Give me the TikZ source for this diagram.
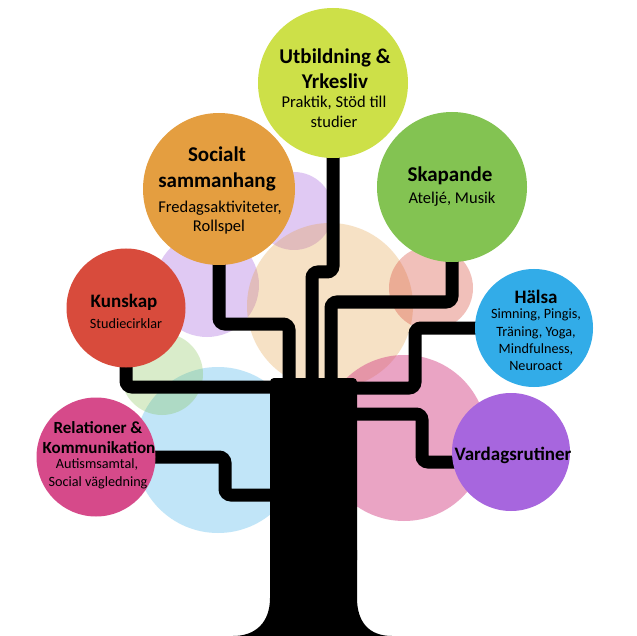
\documentclass[tikz,border=0pt]{standalone}
\usepackage{fontspec}
\setmainfont{Carlito}
\definecolor{utbC}{RGB}{205,224,72}
\definecolor{socC}{RGB}{228,158,64}
\definecolor{skaC}{RGB}{131,195,82}
\definecolor{kunC}{RGB}{216,75,60}
\definecolor{relC}{RGB}{214,74,138}
\definecolor{halC}{RGB}{50,172,232}
\definecolor{varC}{RGB}{167,102,222}
\tikzset{
  bgcirc/.style={circle, inner sep=0pt, draw=none},
  maincirc/.style={circle, inner sep=0pt, draw=none},
  branch/.style={draw=black, line width=13pt, rounded corners=6pt},
  bigtitle/.style={anchor=base, inner sep=0pt, font=\fontsize{21}{21}\selectfont\bfseries},
  bigsub/.style={anchor=base, inner sep=0pt, font=\fontsize{16.5}{16.5}\selectfont},
  smalltitle/.style={anchor=base, inner sep=0pt, font=\fontsize{19}{19}\selectfont\bfseries},
  reltitle/.style={anchor=base, inner sep=0pt, font=\fontsize{17}{17}\selectfont\bfseries},
  smallsub/.style={anchor=base, inner sep=0pt, font=\fontsize{14.2}{14.2}\selectfont}
}
\begin{document}
\begin{tikzpicture}[x=1pt,y=-1pt]
\useasboundingbox (0,0) rectangle (637,636);
\fill[white] (0,0) rectangle (637,636);

% translucent background circles
\node[bgcirc, fill=varC, fill opacity=0.35, minimum size=104pt] (bgLav) at (207,285) {};
\node[bgcirc, fill=varC, fill opacity=0.35, minimum size=78pt] (bgLavS) at (294,211) {};
\node[bgcirc, fill=socC, fill opacity=0.3, minimum size=166pt] (bgPeach) at (330,306) {};
\node[bgcirc, fill=kunC, fill opacity=0.35, minimum size=84pt] (bgSalmon) at (431,288) {};
\node[bgcirc, fill=relC, fill opacity=0.5, minimum size=166pt] (bgPink) at (404,438) {};
\node[bgcirc, fill=halC, fill opacity=0.3, minimum size=166pt] (bgBlue) at (218,450) {};
\node[bgcirc, fill=skaC, fill opacity=0.3, minimum size=82pt] (bgGreen) at (162,374) {};

% main circles (positions used by branches)
\coordinate (kunIn) at (300,387);
\coordinate (relIn) at (300,495);
\coordinate (socIn) at (289,400);
\coordinate (utbIn) at (312,400);
\coordinate (skaIn) at (331,400);
\coordinate (halIn) at (330,388);
\coordinate (varIn) at (330,414);
\coordinate (varEnd) at (480,462);
\coordinate (kunC0) at (126,308);
\coordinate (relC0) at (96,457);
\coordinate (socC0) at (219,189);
\coordinate (utbC0) at (333,83);
\coordinate (skaC0) at (452,187);
\coordinate (halC0) at (534,328);
\coordinate (varC0) at (511,452);

% branches
\draw[branch] (kunC0) |- (kunIn);
\draw[branch] (relC0) -| (225,495) -- (relIn);
\draw[branch] (socC0) |- (289,324) -- (socIn);
\draw[branch] (utbC0) |- (312,272) -- (utbIn);
\draw[branch] (skaC0) |- (331,302) -- (skaIn);
\draw[branch] (halC0) -| (415,388) -- (halIn);
\draw[branch] (varIn) -| (422,462) -- (varEnd);

% trunk
\fill[black, rounded corners=4pt] (270,560) -- (270,378) -- (357,378) -- (357,560);
\fill[black] (270,550) -- (270,598) .. controls (270,622) and (256,636) .. (233,636)
  -- (392,636) .. controls (369,636) and (357,622) .. (357,598) -- (357,550) -- cycle;

% main circles
\node[maincirc, fill=utbC, minimum size=150pt] (utb) at (utbC0) {};
\node[maincirc, fill=socC, minimum size=152pt] (soc) at (socC0) {};
\node[maincirc, fill=skaC, minimum size=150pt] (ska) at (skaC0) {};
\node[maincirc, fill=kunC, minimum size=119pt] (kun) at (kunC0) {};
\node[maincirc, fill=relC, minimum size=119pt] (rel) at (relC0) {};
\node[maincirc, fill=halC, minimum size=118pt] (hal) at (halC0) {};
\node[maincirc, fill=varC, minimum size=118pt] (var) at (varC0) {};

% texts
\node[bigtitle] (utbT1) at (335,64) {Utbildning \&};
\node[bigtitle] (utbT2) at (335,89) {Yrkesliv};
\node[bigsub] (utbS1) at (334,108) {Praktik, Stöd till};
\node[bigsub] (utbS2) at (334,128) {studier};

\node[bigtitle] (socT1) at (217,162) {Socialt};
\node[bigtitle] (socT2) at (217,188) {sammanhang};
\node[bigsub] (socS1) at (220,213) {Fredagsaktiviteter,};
\node[bigsub] (socS2) at (219,232) {Rollspel};

\node[bigtitle] (skaT1) at (450,182) {Skapande};
\node[bigsub] (skaS1) at (452,204) {Ateljé, Musik};

\node[smalltitle] (kunT1) at (124,308) {Kunskap};
\node[smallsub] (kunS1) at (126,328) {Studiecirklar};

\node[reltitle] (relT1) at (98,433) {Relationer \&};
\node[reltitle] (relT2) at (99,453) {Kommunikation};
\node[smallsub] (relS1) at (97,468) {Autismsamtal,};
\node[smallsub] (relS2) at (98,486) {Social vägledning};

\node[smalltitle] (halT1) at (536,303) {Hälsa};
\node[smallsub] (halS1) at (536,318) {Simning, Pingis,};
\node[smallsub] (halS2) at (536,336) {Träning, Yoga,};
\node[smallsub] (halS3) at (536,353) {Mindfulness,};
\node[smallsub] (halS4) at (536,370) {Neuroact};

\node[smalltitle] (varT1) at (513,460) {Vardagsrutiner};
\end{tikzpicture}
\end{document}
